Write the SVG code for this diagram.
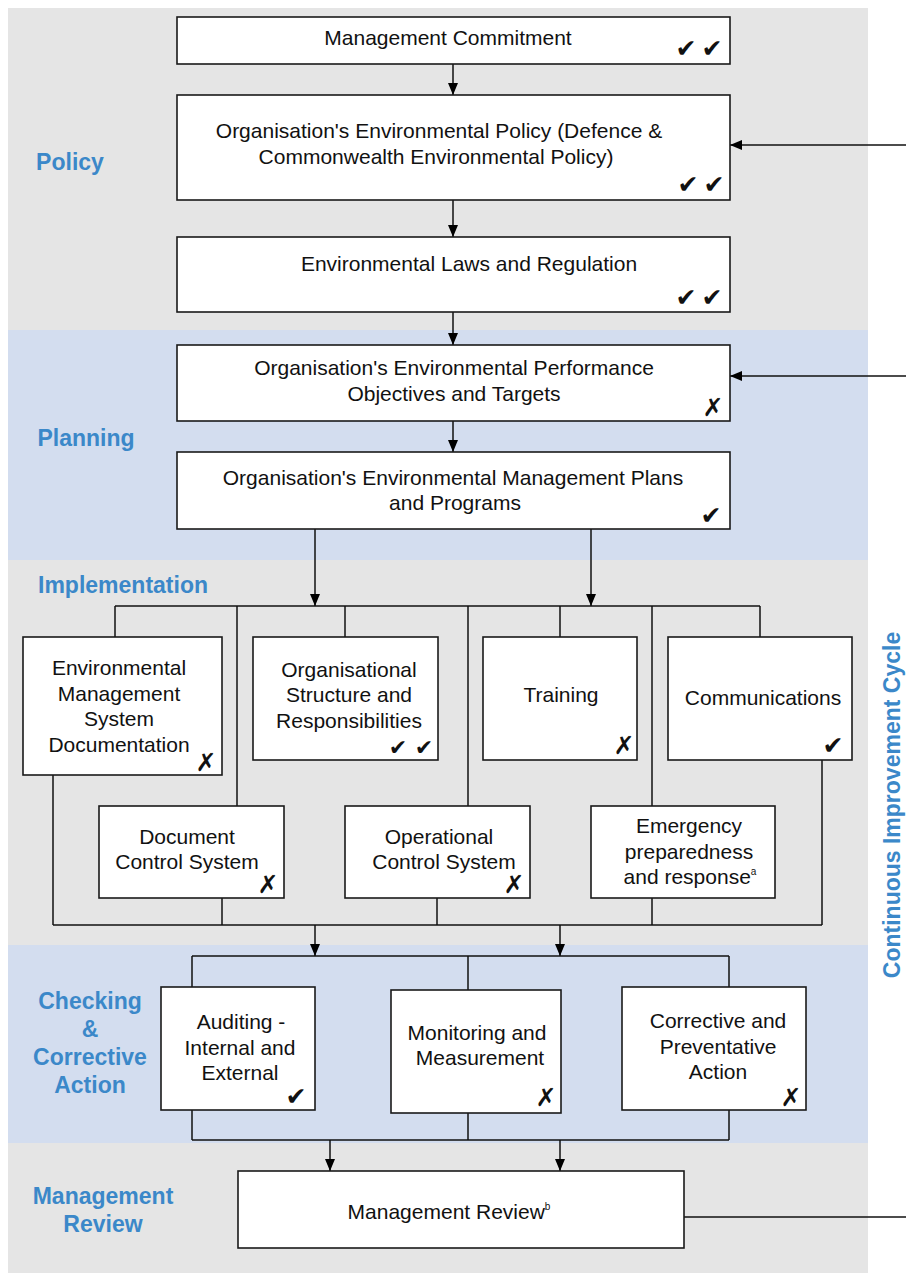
<svg xmlns="http://www.w3.org/2000/svg" width="906" height="1275" viewBox="0 0 906 1275">
<defs>
<marker id="ah" markerUnits="userSpaceOnUse" markerWidth="12" markerHeight="10" refX="12" refY="5" orient="auto"><path d="M0,0 L12,5 L0,10 z" fill="#000"/></marker>
<style>
.box{fill:#fff;stroke:#1a1a1a;stroke-width:1.6}
.t{font-family:"Liberation Sans",Arial,sans-serif;font-size:21px;fill:#111;text-anchor:middle}
.lab{font-family:"Liberation Sans",Arial,sans-serif;font-size:23px;font-weight:bold;fill:#3b88c9;text-anchor:middle}
.mk{font-family:"DejaVu Sans",sans-serif;font-size:25px;fill:#111;text-anchor:middle}
.mks{font-size:22px}
.ln{fill:none;stroke:#111;stroke-width:1.5}
.ar{fill:none;stroke:#111;stroke-width:1.5;marker-end:url(#ah)}
.sup{font-size:10px}
</style>
</defs>
<rect width="906" height="1275" fill="#fff"/>
<g id="bands">
<rect x="8" y="8" width="860" height="322" fill="#e5e5e5"/>
<rect x="8" y="330" width="860" height="230" fill="#d3ddef"/>
<rect x="8" y="560" width="860" height="385" fill="#e5e5e5"/>
<rect x="8" y="945" width="860" height="198" fill="#d3ddef"/>
<rect x="8" y="1143" width="860" height="130" fill="#e5e5e5"/>
</g>
<g id="labels">
<text class="lab" x="70" y="170">Policy</text>
<text class="lab" x="86" y="446">Planning</text>
<text class="lab" x="123" y="593">Implementation</text>
<text class="lab" x="90" y="1009">Checking</text>
<text class="lab" x="90" y="1037">&amp;</text>
<text class="lab" x="90" y="1065">Corrective</text>
<text class="lab" x="90" y="1093">Action</text>
<text class="lab" x="103" y="1204">Management</text>
<text class="lab" x="103" y="1232">Review</text>
<text class="lab" transform="translate(900,805) rotate(-90)" x="0" y="0">Continuous Improvement Cycle</text>
</g>
<g id="connectors">
<line class="ar" x1="453" y1="64" x2="453" y2="95"/>
<line class="ar" x1="906" y1="145" x2="730" y2="145"/>
<line class="ar" x1="453" y1="200" x2="453" y2="237"/>
<line class="ar" x1="453" y1="312" x2="453" y2="345"/>
<line class="ar" x1="906" y1="376" x2="730" y2="376"/>
<line class="ar" x1="453" y1="421" x2="453" y2="452"/>
<line class="ar" x1="315" y1="529" x2="315" y2="606"/>
<line class="ar" x1="591" y1="529" x2="591" y2="606"/>
<line class="ln" x1="115" y1="606" x2="760" y2="606"/>
<line class="ln" x1="115" y1="606" x2="115" y2="637"/>
<line class="ln" x1="237" y1="606" x2="237" y2="806"/>
<line class="ln" x1="345" y1="606" x2="345" y2="637"/>
<line class="ln" x1="468" y1="606" x2="468" y2="806"/>
<line class="ln" x1="560" y1="606" x2="560" y2="637"/>
<line class="ln" x1="652" y1="606" x2="652" y2="806"/>
<line class="ln" x1="760" y1="606" x2="760" y2="637"/>
<line class="ln" x1="53" y1="775" x2="53" y2="925"/>
<line class="ln" x1="222" y1="898" x2="222" y2="925"/>
<line class="ln" x1="437" y1="898" x2="437" y2="925"/>
<line class="ln" x1="652" y1="898" x2="652" y2="925"/>
<line class="ln" x1="822" y1="760" x2="822" y2="925"/>
<line class="ln" x1="53" y1="925" x2="822" y2="925"/>
<line class="ar" x1="315" y1="925" x2="315" y2="956"/>
<line class="ar" x1="560" y1="925" x2="560" y2="956"/>
<line class="ln" x1="192" y1="956" x2="729" y2="956"/>
<line class="ln" x1="192" y1="956" x2="192" y2="987"/>
<line class="ln" x1="468" y1="956" x2="468" y2="990"/>
<line class="ln" x1="729" y1="956" x2="729" y2="987"/>
<line class="ln" x1="192" y1="1110" x2="192" y2="1140"/>
<line class="ln" x1="468" y1="1113" x2="468" y2="1140"/>
<line class="ln" x1="729" y1="1110" x2="729" y2="1140"/>
<line class="ln" x1="192" y1="1140" x2="729" y2="1140"/>
<line class="ar" x1="330" y1="1140" x2="330" y2="1171"/>
<line class="ar" x1="560" y1="1140" x2="560" y2="1171"/>
<line class="ln" x1="684" y1="1217" x2="906" y2="1217"/>
</g>
<g id="n-commitment">
<rect class="box" x="177" y="17" width="553" height="47"/>
<text class="t" x="448" y="45">Management Commitment</text>
<text class="mk" x="686" y="57">✔</text><text class="mk" x="712" y="57">✔</text>
</g>
<g id="n-policy">
<rect class="box" x="177" y="95" width="553" height="105"/>
<text class="t" x="439" y="138">Organisation's Environmental Policy (Defence &amp;</text>
<text class="t" x="436" y="164">Commonwealth Environmental Policy)</text>
<text class="mk" x="688" y="193">✔</text><text class="mk" x="714" y="193">✔</text>
</g>
<g id="n-laws">
<rect class="box" x="177" y="237" width="553" height="75"/>
<text class="t" x="469" y="271">Environmental Laws and Regulation</text>
<text class="mk" x="686" y="306">✔</text><text class="mk" x="712" y="306">✔</text>
</g>
<g id="n-objectives">
<rect class="box" x="177" y="345" width="553" height="76"/>
<text class="t" x="454" y="375">Organisation's Environmental Performance</text>
<text class="t" x="454" y="401">Objectives and Targets</text>
<text class="mk" x="713" y="416">✗</text>
</g>
<g id="n-plans">
<rect class="box" x="177" y="452" width="553" height="77"/>
<text class="t" x="453" y="485">Organisation's Environmental Management Plans</text>
<text class="t" x="455" y="510">and Programs</text>
<text class="mk" x="711" y="524">✔</text>
</g>
<g id="n-ems">
<rect class="box" x="23" y="637" width="199" height="138"/>
<text class="t" x="119" y="675">Environmental</text>
<text class="t" x="119" y="701">Management</text>
<text class="t" x="119" y="726">System</text>
<text class="t" x="119" y="752">Documentation</text>
<text class="mk" x="206" y="771">✗</text>
</g>
<g id="n-org">
<rect class="box" x="253" y="637" width="185" height="123"/>
<text class="t" x="349" y="677">Organisational</text>
<text class="t" x="349" y="702">Structure and</text>
<text class="t" x="349" y="728">Responsibilities</text>
<text class="mk mks" x="398" y="755">✔</text><text class="mk mks" x="424" y="755">✔</text>
</g>
<g id="n-training">
<rect class="box" x="483" y="637" width="154" height="123"/>
<text class="t" x="561" y="702">Training</text>
<text class="mk" x="624" y="754">✗</text>
</g>
<g id="n-comms">
<rect class="box" x="668" y="637" width="184" height="123"/>
<text class="t" x="763" y="705">Communications</text>
<text class="mk" x="833" y="754">✔</text>
</g>
<g id="n-doccontrol">
<rect class="box" x="99" y="806" width="185" height="92"/>
<text class="t" x="187" y="844">Document</text>
<text class="t" x="187" y="869">Control System</text>
<text class="mk" x="268" y="893">✗</text>
</g>
<g id="n-opcontrol">
<rect class="box" x="345" y="806" width="185" height="92"/>
<text class="t" x="439" y="844">Operational</text>
<text class="t" x="444" y="869">Control System</text>
<text class="mk" x="514" y="893">✗</text>
</g>
<g id="n-emergency">
<rect class="box" x="591" y="806" width="184" height="92"/>
<text class="t" x="689" y="833">Emergency</text>
<text class="t" x="689" y="859">preparedness</text>
<text class="t" x="690" y="884">and response<tspan class="sup" dy="-9">a</tspan></text>
</g>
<g id="n-auditing">
<rect class="box" x="161" y="987" width="154" height="123"/>
<text class="t" x="241" y="1029">Auditing -</text>
<text class="t" x="240" y="1055">Internal and</text>
<text class="t" x="240" y="1080">External</text>
<text class="mk" x="296" y="1105">✔</text>
</g>
<g id="n-monitoring">
<rect class="box" x="391" y="990" width="170" height="123"/>
<text class="t" x="477" y="1040">Monitoring and</text>
<text class="t" x="480" y="1065">Measurement</text>
<text class="mk" x="546" y="1106">✗</text>
</g>
<g id="n-corrective">
<rect class="box" x="622" y="987" width="184" height="123"/>
<text class="t" x="718" y="1028">Corrective and</text>
<text class="t" x="718" y="1054">Preventative</text>
<text class="t" x="718" y="1079">Action</text>
<text class="mk" x="791" y="1106">✗</text>
</g>
<g id="n-review">
<rect class="box" x="238" y="1171" width="446" height="77"/>
<text class="t" x="449" y="1219">Management Review<tspan class="sup" dy="-9">b</tspan></text>
</g>
</svg>
